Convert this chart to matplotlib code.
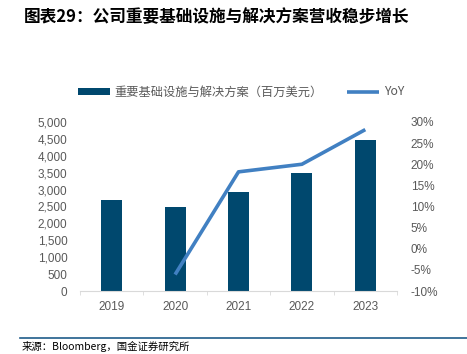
import matplotlib
matplotlib.use('Agg')
import matplotlib.pyplot as plt
import numpy as np
from matplotlib.ticker import FuncFormatter, FixedLocator

plt.rcParams['font.family'] = ['Noto Sans CJK SC', 'DejaVu Sans']

# data
years = ['2019', '2020', '2021', '2022', '2023']
revenue = [2680, 2480, 2920, 3500, 4460]
yoy = [np.nan, -6.1, 18.2, 20.0, 28.2]

bar_color = '#00486E'
line_color = '#4180C2'
tick_color = '#595959'

fig = plt.figure(figsize=(4.67, 3.54), dpi=100)
ax = fig.add_axes([80/467, 1-291/354, 317/467, 169/354])
ax2 = ax.twinx()

x = np.arange(len(years))
ax.bar(x, revenue, width=0.33, color=bar_color, label='重要基础设施与解决方案（百万美元）', zorder=2)
ax2.plot(x, yoy, color=line_color, linewidth=2.6, label='YoY', solid_capstyle='butt')

ax.set_xlim(-0.5, 4.5)
ax.set_ylim(0, 5000)
ax.set_yticks(np.arange(0, 5001, 500))
ax.yaxis.set_major_formatter(FuncFormatter(lambda v, p: f'{int(v):,}'))
ax2.set_ylim(-10, 30)
ax2.set_yticks(np.arange(-10, 31, 5))
ax2.yaxis.set_major_formatter(FuncFormatter(lambda v, p: f'{int(v)}%'))

ax.set_xticks(x)
ax.set_xticklabels(years)
ax.xaxis.set_minor_locator(FixedLocator(np.arange(-0.5, 5, 1)))
ax.tick_params(axis='x', which='major', length=0, pad=7, labelsize=8.5, labelcolor=tick_color)
ax.tick_params(axis='x', which='minor', length=3, color='#D9D9D9', direction='out')
ax.tick_params(axis='y', length=0, pad=9, labelsize=8.5, labelcolor=tick_color)
ax2.tick_params(axis='y', length=0, pad=10, labelsize=8.5, labelcolor=tick_color)
for lab in ax.get_xticklabels() + ax.get_yticklabels() + ax2.get_yticklabels():
    lab.set_family(['Liberation Sans', 'DejaVu Sans'])

for a in (ax, ax2):
    for s in a.spines.values():
        s.set_visible(False)
ax.spines['bottom'].set_visible(True)
ax.spines['bottom'].set_color('#D9D9D9')

h1, l1 = ax.get_legend_handles_labels()
h2, l2 = ax2.get_legend_handles_labels()
leg = ax.legend(h1 + h2, l1 + l2, loc='center', bbox_to_anchor=(0.508, 1.178), ncol=2,
                frameon=False, fontsize=8.8, handlelength=2.6, handleheight=0.5,
                columnspacing=2.0, handletextpad=0.4)
for t in leg.get_texts():
    t.set_color(tick_color)

fig.text(24/467, 1-17/354, '图表29：公司重要基础设施与解决方案营收稳步增长', fontsize=12,
         fontweight='bold', style='italic', va='center', ha='left', color='black')

fig.add_artist(plt.Line2D([20/467, 1], [1-338/354, 1-338/354], color='#1F5C8A', linewidth=1.2,
                          transform=fig.transFigure))
fig.text(22/467, 1-347/354, '来源：Bloomberg，国金证券研究所', fontsize=7.5, va='center', ha='left',
         color='black')

fig.savefig('out.png', dpi=100)
